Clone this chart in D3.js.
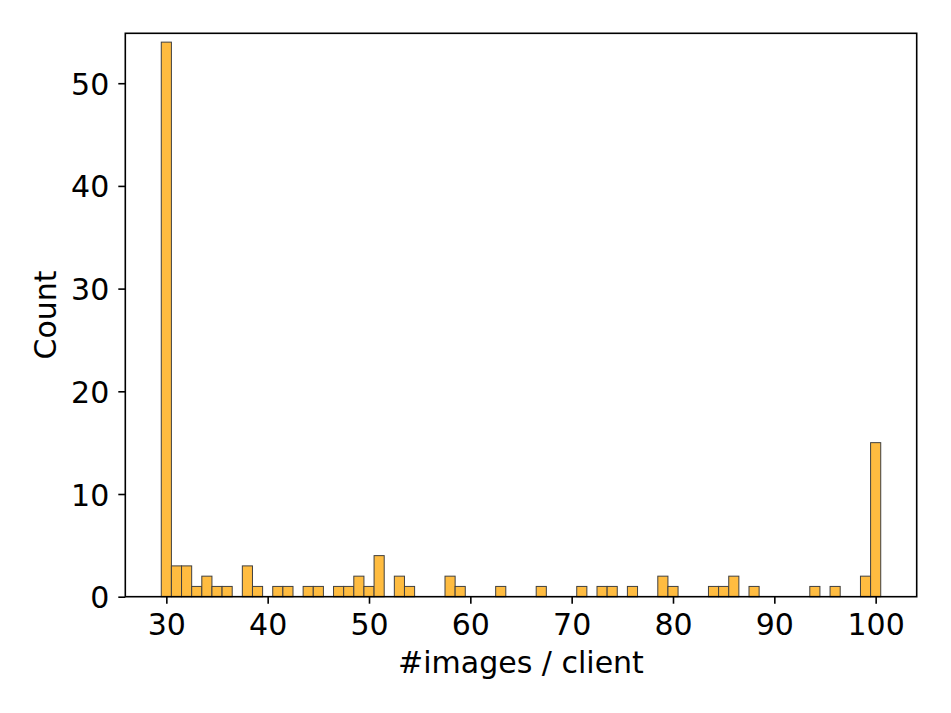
<!DOCTYPE html>
<html>
<head>
<meta charset="utf-8">
<script src="https://cdn.jsdelivr.net/npm/d3@7"></script>
<style>
  html, body { margin: 0; padding: 0; background: #fff; }
  svg { display: block; font-family: "DejaVu Sans", sans-serif; }
</style>
</head>
<body>
<svg id="chart" width="951" height="713"></svg>
<script>
// Histogram bins (bin centre = #images per client) and counts
const binValues = [30, 31, 32, 33, 34, 35, 36, 38, 39, 41, 42, 44, 45, 47, 48, 49, 50, 51, 53, 54,
                   58, 59, 63, 67, 71, 73, 74, 76, 79, 80, 84, 85, 86, 88, 94, 96, 99, 100];
const binCounts = [54, 3, 3, 1, 2, 1, 1, 3, 1, 1, 1, 1, 1, 1, 1, 2, 1, 4, 2, 1,
                   2, 1, 1, 1, 1, 1, 1, 1, 2, 1, 1, 1, 2, 1, 1, 1, 2, 15];
const xTicks = [30, 40, 50, 60, 70, 80, 90, 100];
const yTicks = [0, 10, 20, 30, 40, 50];
const xLabel = "#images / client";
const yLabel = "Count";

const svg = d3.select("#chart");
const L = 125.3, R = 916.7, T = 33.3, B = 596.7;
const FS = 30;

const x = d3.scaleLinear().domain([25.95, 104.05]).range([L, R]);
const y = d3.scaleLinear().domain([0, 54.86]).range([B, T]);

const data = binValues.map((v, i) => ({ v, c: binCounts[i] }));

svg.append("g").selectAll("rect").data(data).enter().append("rect")
  .attr("x", d => x(d.v - 0.5))
  .attr("width", d => x(d.v + 0.5) - x(d.v - 0.5))
  .attr("y", d => y(d.c))
  .attr("height", d => y(0) - y(d.c))
  .attr("fill", "#ffbc40")
  .attr("stroke", "#404040")
  .attr("stroke-width", 1);

// frame
svg.append("rect")
  .attr("x", L).attr("y", T).attr("width", R - L).attr("height", B - T)
  .attr("fill", "none").attr("stroke", "#000").attr("stroke-width", 1.6);

const xAxis = svg.append("g").attr("transform", `translate(0,${B})`)
  .call(d3.axisBottom(x).tickValues(xTicks).tickSize(7).tickPadding(8).tickFormat(d3.format("d")));
xAxis.select(".domain").remove();
xAxis.selectAll("line").attr("stroke", "#000").attr("stroke-width", 1.6);
xAxis.selectAll("text").attr("font-size", FS).attr("fill", "#000")
  .attr("font-family", "DejaVu Sans").attr("y", 38).attr("dy", null);

const yAxis = svg.append("g").attr("transform", `translate(${L},0)`)
  .call(d3.axisLeft(y).tickValues(yTicks).tickSize(7).tickPadding(8).tickFormat(d3.format("d")));
yAxis.select(".domain").remove();
yAxis.selectAll("line").attr("stroke", "#000").attr("stroke-width", 1.6);
yAxis.selectAll("text").attr("font-size", FS).attr("fill", "#000")
  .attr("font-family", "DejaVu Sans").attr("x", -16).attr("dy", 11);

svg.append("text")
  .attr("x", (L + R) / 2).attr("y", 673)
  .attr("text-anchor", "middle").attr("font-size", FS).attr("fill", "#000")
  .text(xLabel);

svg.append("text")
  .attr("transform", `translate(56,${(T + B) / 2}) rotate(-90)`)
  .attr("text-anchor", "middle").attr("font-size", FS).attr("fill", "#000")
  .text(yLabel);
</script>
</body>
</html>
